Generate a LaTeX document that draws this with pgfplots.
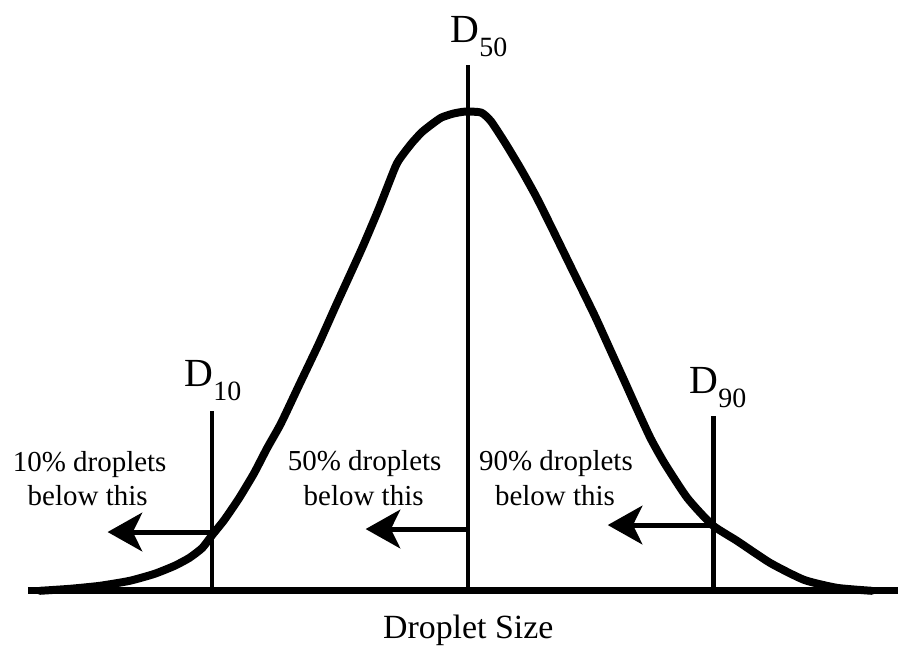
\documentclass[border=0pt]{standalone}
\usepackage{pgfplots}
\pgfplotsset{compat=1.18}
\usepackage{fontspec}
\setmainfont{Liberation Serif}
\usetikzlibrary{arrows.meta}
\begin{document}
\begin{tikzpicture}
\begin{axis}[
  width=675.75pt, height=489.75pt, scale only axis,
  xmin=0, xmax=901, ymin=0, ymax=653,
  hide axis, clip=false,
]
% invisible frame
\addplot[draw=none] coordinates {(0,0) (901,653)};
% baseline axis
\addplot[black, line width=5pt] coordinates {(28,60) (901,60)};
% vertical marker lines
\addplot[black, line width=3.3pt] coordinates {(213,60) (213,240)};
\addplot[black, line width=3.3pt] coordinates {(470,60) (470,588)};
\addplot[black, line width=3.3pt] coordinates {(716,60) (716,235)};
% distribution curve (pixel coords, y flipped)
\addplot[black, line width=6pt, smooth, tension=0.35, line join=round, line cap=round] coordinates {
(40,60) (70,62) (100,65) (130,70) (155,77) (175,85) (190,93) (203,103) (213,116)
(225,131) (240,153) (255,178) (268,203) (282,228) (300,266) (320,308) (337,346)
(363,403) (380,443) (397,486) (403,496) (413,509) (423,520) (433,528) (443,535)
(455,539) (467,541) (483,540) (493,531) (508,508) (523,483) (538,456) (553,426)
(575,381) (597,336) (612,303) (627,270) (640,241) (653,213) (667,188) (690,153)
(715,126) (740,110) (773,88) (807,71) (840,63) (875,60)
};
% arrows
\addplot[black, line width=3.8pt, -{Stealth[length=26pt,width=29pt,inset=7pt]}] coordinates {(213,119) (108,119)};
\addplot[black, line width=3.8pt, -{Stealth[length=26pt,width=29pt,inset=7pt]}] coordinates {(470,122) (367,122)};
\addplot[black, line width=3.8pt, -{Stealth[length=26pt,width=29pt,inset=7pt]}] coordinates {(716,126) (610,126)};
% D labels
\node[anchor=base west, inner sep=0pt] at (axis cs:452,610) {\fontsize{30}{32}\selectfont D\raisebox{-10.5pt}{\fontsize{21}{23}\selectfont 50}};
\node[anchor=base west, inner sep=0pt] at (axis cs:185,265) {\fontsize{30}{32}\selectfont D\raisebox{-10.5pt}{\fontsize{21}{23}\selectfont 10}};
\node[anchor=base west, inner sep=0pt] at (axis cs:692,258) {\fontsize{30}{32}\selectfont D\raisebox{-10.5pt}{\fontsize{21}{23}\selectfont 90}};
% annotations
\node[anchor=base, inner sep=0pt, font=\fontsize{21.8}{26}\selectfont] at (axis cs:90,180) {10\% droplets};
\node[anchor=base, inner sep=0pt, font=\fontsize{21.8}{26}\selectfont] at (axis cs:88,146) {below this};
\node[anchor=base, inner sep=0pt, font=\fontsize{21.8}{26}\selectfont] at (axis cs:366,181) {50\% droplets};
\node[anchor=base, inner sep=0pt, font=\fontsize{21.8}{26}\selectfont] at (axis cs:365,146) {below this};
\node[anchor=base, inner sep=0pt, font=\fontsize{21.8}{26}\selectfont] at (axis cs:558,181) {90\% droplets};
\node[anchor=base, inner sep=0pt, font=\fontsize{21.8}{26}\selectfont] at (axis cs:557,146) {below this};
\node[anchor=base, inner sep=0pt, font=\fontsize{25.5}{30}\selectfont] at (axis cs:470,12) {Droplet Size};
\end{axis}
\end{tikzpicture}
\end{document}
